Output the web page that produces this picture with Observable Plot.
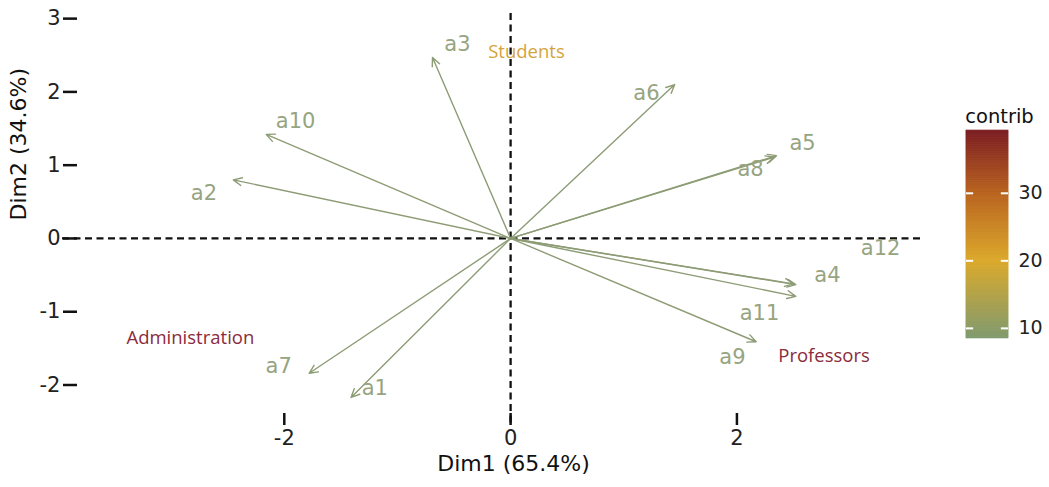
<!DOCTYPE html>
<html><head><meta charset="utf-8">
<script src="https://cdn.jsdelivr.net/npm/d3@7"></script>
<script src="https://cdn.jsdelivr.net/npm/@observablehq/plot@0.6"></script>
<style>
body{margin:0;background:#fff;}
#wrap{position:relative;width:1049px;height:487px;overflow:hidden;}
#legend{position:absolute;left:940px;top:90px;}
#chart{position:absolute;left:0;top:0;}
</style></head><body>
<div id="wrap"><div id="chart"></div><div id="legend"></div></div>
<script>
// Variables (arrows) — coordinates on Dim1 / Dim2
const variables = ["a1","a2","a3","a4","a5","a6","a7","a8","a9","a10","a11","a12"];
const dim1 = [-1.41, -2.45, -0.69, 2.52, 2.35, 1.45, -1.78, 2.33, 2.17, -2.16, 2.52, 2.50];
const dim2 = [-2.17,  0.80,  2.47, -0.63, 1.13, 2.10, -1.84, 1.11, -1.41, 1.42, -0.79, -0.62];
// repelled label positions (data units)
const labelDim1 = [-1.20, -2.71, -0.47, 2.80, 2.58, 1.20, -2.05, 2.12, 1.96, -1.90, 2.20, 3.27];
const labelDim2 = [-2.05,  0.61,  2.65, -0.50, 1.30, 1.98, -1.75, 0.95, -1.62, 1.60, -1.02, -0.14];

// Group annotations
const groupNames = ["Students", "Administration", "Professors"];
const groupDim1 = [0.14, -2.83, 2.77];
const groupDim2 = [2.55, -1.36, -1.60];
const groupColors = ["#d4a43c", "#8b2b3b", "#8b2b3b"];

const xTicks = [-2, 0, 2];
const yTicks = [-2, -1, 0, 1, 2, 3];
const xTitle = "Dim1 (65.4%)";
const yTitle = "Dim2 (34.6%)";

const legendTitle = "contrib";
const legendTicks = [10, 20, 30];
const contribDomain = [8.5, 39.3];

const rows = variables.map((v, i) => ({v, x: dim1[i], y: dim2[i], lx: labelDim1[i], ly: labelDim2[i]}));
const groups = groupNames.map((g, i) => ({g, x: groupDim1[i], y: groupDim2[i], c: groupColors[i]}));

const arrowColor = "#8d9c75";
const labelColor = "#96a481";
const dash = "7,4.5";

const chart = Plot.plot({
  width: 1049, height: 487,
  marginLeft: 62, marginRight: 127, marginTop: 13, marginBottom: 60,
  x: {domain: [-3.96, 3.64]},
  y: {domain: [-2.58, 3.07]},
  style: {fontFamily: "DejaVu Sans", background: "white", color: "#222"},
  marks: [
    Plot.ruleY([0], {stroke: "#111", strokeWidth: 2.3, strokeDasharray: dash}),
    Plot.ruleX([0], {stroke: "#111", strokeWidth: 2.3, strokeDasharray: dash}),
    Plot.arrow(rows, {x1: d => 0, y1: d => 0, x2: "x", y2: "y", stroke: arrowColor, strokeWidth: 1.4, headLength: 10, headAngle: 50}),
    Plot.text(rows, {x: "lx", y: "ly", text: "v", fill: labelColor, fontSize: 21, fontFamily: "DejaVu Sans"}),
    Plot.text(groups, {x: "x", y: "y", text: "g", fill: "c", fontSize: 18.5, fontFamily: "Open Sans"}),
    Plot.axisX(xTicks, {tickSize: 12, dy: -14, tickPadding: 5, fontSize: 21, strokeWidth: 2.5, stroke: "#111", label: null, tickFormat: d => String(d)}),
    Plot.axisY(yTicks, {tickSize: 14, dx: 15, tickPadding: 3, fontSize: 21, strokeWidth: 2.5, stroke: "#111", label: null, tickFormat: d => String(d)}),
    Plot.text([xTitle], {frameAnchor: "bottom", dy: 43, dx: 21, fontSize: 22, fill: "#111"}),
    Plot.text([yTitle], {frameAnchor: "left", rotate: -90, dx: -44, fontSize: 22, fill: "#111"})
  ]
});
document.getElementById("chart").appendChild(chart);

// Legend (colour bar)
const n = 300;
const step = (contribDomain[1] - contribDomain[0]) / n;
const ramp = d3.range(n).map(i => contribDomain[0] + i * step);
const legend = Plot.plot({
  width: 109, height: 260,
  marginLeft: 26, marginRight: 41, marginTop: 40, marginBottom: 12,
  x: {domain: [0, 1], axis: null},
  y: {domain: contribDomain, axis: null},
  color: {type: "linear", domain: [contribDomain[0], 20, 30, contribDomain[1]], range: ["#7f9a6e", "#dba92b", "#b9631f", "#7b1d22"]},
  style: {fontFamily: "DejaVu Sans", background: "white", color: "#222"},
  marks: [
    Plot.rect(ramp, {x1: d => 0, x2: d => 1, y1: d => d, y2: d => d + step, fill: d => d + step / 2, stroke: d => d + step / 2, strokeWidth: 0.6}),
    Plot.ruleY(legendTicks, {x1: d => 0, x2: d => 0.17, stroke: "white", strokeWidth: 2}),
    Plot.ruleY(legendTicks, {x1: d => 0.83, x2: d => 1, stroke: "white", strokeWidth: 2}),
    Plot.axisY(legendTicks, {anchor: "right", tickSize: 0, tickPadding: 10, fontSize: 19, label: null}),
    Plot.text([legendTitle], {frameAnchor: "top", dy: -21, dx: 12, fontSize: 19.5, fill: "#111"})
  ]
});
document.getElementById("legend").appendChild(legend);
</script>
</body></html>
